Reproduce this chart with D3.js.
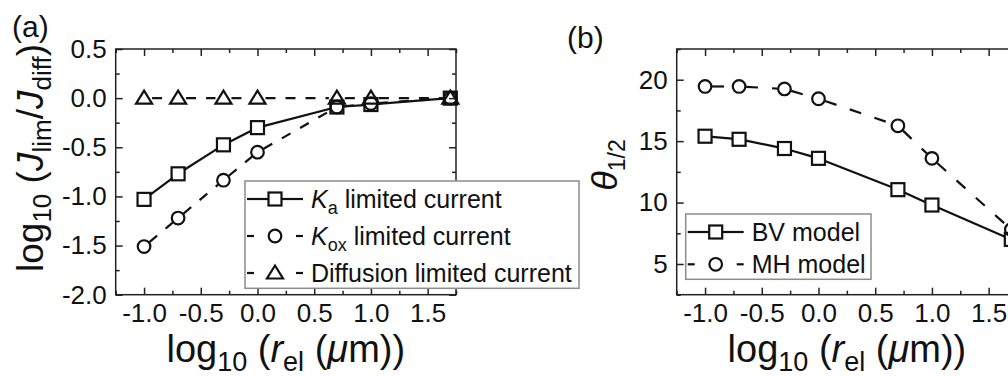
<!DOCTYPE html>
<html lang="en">
	<head>
		<meta charset="utf-8">
		<title>Limiting current and half-wave angle vs electrode radius</title>
		<script src="https://cdn.jsdelivr.net/npm/d3@7"></script>
		<style>
			body { margin: 0; background: #fff; }
			svg { display: block; font-family: "Liberation Sans", Arial, sans-serif; }
			.tick text { font-size: 26px; fill: #111; }
			.tick line { stroke: #222; stroke-width: 1.5; }
			.frame { fill: none; stroke: #222; stroke-width: 1.5; }
		</style>
	</head>
	<body>
		<script>

			// x positions shared by both panels: log10 of electrode radius (um)
			var logR = [-1, -0.7, -0.3, 0, 0.7, 1, 1.7];

			// panel (a): log10(Jlim/Jdiff)
			var kaVals   = [-1.03, -0.77, -0.475, -0.30, -0.09, -0.065, 0.0];
			var koxVals  = [-1.51, -1.22, -0.835, -0.55, -0.09, -0.055, 0.0];
			var diffVals = [0, 0, 0, 0, 0, 0, 0];

			// panel (b): theta 1/2
			var bvVals = [15.4, 15.15, 14.4, 13.6, 11.05, 9.8, 7.0];
			var mhVals = [19.45, 19.45, 19.25, 18.45, 16.25, 13.6, 7.8];

			var xTicks  = [-1, -0.5, 0, 0.5, 1, 1.5];
			var xMinor  = [-1.25, -0.75, -0.25, 0.25, 0.75, 1.25, 1.75];
			var yTicksA = [-2, -1.5, -1, -0.5, 0, 0.5];
			var yMinorA = [-1.75, -1.25, -0.75, -0.25, 0.25];
			var yTicksB = [5, 10, 15, 20];
			var yMinorB = [2.5, 7.5, 12.5, 17.5, 22.5];

			var W = 1008, H = 376;
			var pw = 340.3, ph = 245.7;

			var svg = d3.select("body").append("svg")
				.attr("width", W)
				.attr("height", H);

			function panel(left, top, yDomain, yTicks, yMinor, yFmt) {
				var g = svg.append("g").attr("transform", "translate(" + left + "," + top + ")");
				var x = d3.scaleLinear().domain([-1.25, 1.75]).range([0, pw]);
				var y = d3.scaleLinear().domain(yDomain).range([ph, 0]);

				var fx = function(d) { return d.toFixed(1); };

				// major ticks with labels (bottom, left) and mirrored (top, right)
				g.append("g").attr("transform", "translate(0," + ph + ")")
					.call(d3.axisBottom(x).tickValues(xTicks).tickFormat(fx).tickSize(-7).tickSizeOuter(0).tickPadding(9));
				g.append("g")
					.call(d3.axisLeft(y).tickValues(yTicks).tickFormat(yFmt).tickSize(-7).tickSizeOuter(0).tickPadding(9));
				g.append("g")
					.call(d3.axisTop(x).tickValues(xTicks).tickFormat("").tickSize(-7).tickSizeOuter(0));
				g.append("g").attr("transform", "translate(" + pw + ",0)")
					.call(d3.axisRight(y).tickValues(yTicks).tickFormat("").tickSize(-7).tickSizeOuter(0));

				// minor ticks
				g.append("g").attr("transform", "translate(0," + ph + ")")
					.call(d3.axisBottom(x).tickValues(xMinor).tickFormat("").tickSize(-4).tickSizeOuter(0));
				g.append("g")
					.call(d3.axisTop(x).tickValues(xMinor).tickFormat("").tickSize(-4).tickSizeOuter(0));
				g.append("g")
					.call(d3.axisLeft(y).tickValues(yMinor).tickFormat("").tickSize(-4).tickSizeOuter(0));
				g.append("g").attr("transform", "translate(" + pw + ",0)")
					.call(d3.axisRight(y).tickValues(yMinor).tickFormat("").tickSize(-4).tickSizeOuter(0));

				g.selectAll(".domain").remove();

				g.append("rect").attr("class", "frame")
					.attr("width", pw).attr("height", ph);

				return { g: g, x: x, y: y };
			}

			// draw a series as separate segments that stop short of the markers
			function series(p, vals, dash, gap) {
				var pts = logR.map(function(d, i) { return [p.x(d), p.y(vals[i])]; });
				var segs = [];
				for (var i = 0; i < pts.length - 1; i++) {
					var a = pts[i], b = pts[i + 1];
					var dx = b[0] - a[0], dy = b[1] - a[1];
					var len = Math.sqrt(dx * dx + dy * dy);
					if (len <= 2 * gap) continue;
					var ux = dx / len, uy = dy / len;
					segs.push([a[0] + ux * gap, a[1] + uy * gap, b[0] - ux * gap, b[1] - uy * gap]);
				}
				p.g.append("g").selectAll("line")
					.data(segs)
					.join("line")
					.attr("x1", function(d) { return d[0]; })
					.attr("y1", function(d) { return d[1]; })
					.attr("x2", function(d) { return d[2]; })
					.attr("y2", function(d) { return d[3]; })
					.attr("stroke", "#111")
					.attr("stroke-width", 2.2)
					.attr("stroke-dasharray", dash);
				return pts;
			}

			function marker(sel, type) {
				if (type === "square") {
					sel.append("rect").attr("x", -6.5).attr("y", -6.5).attr("width", 13).attr("height", 13);
				} else if (type === "circle") {
					sel.append("circle").attr("r", 6.3);
				} else {
					sel.append("path").attr("d", "M0,-7.5L8,5.5L-8,5.5Z");
				}
				sel.attr("fill", "none").attr("stroke", "#111").attr("stroke-width", 2.2);
			}

			function markers(p, pts, type) {
				p.g.append("g").selectAll("g")
					.data(pts)
					.join("g")
					.attr("transform", function(d) { return "translate(" + d[0] + "," + d[1] + ")"; })
					.each(function() { marker(d3.select(this), type); });
			}

			function xTitle(cx) {
				var t = svg.append("text")
					.attr("x", cx).attr("y", 362)
					.attr("text-anchor", "middle")
					.attr("font-size", 38).attr("fill", "#111");
				t.append("tspan").text("log");
				t.append("tspan").attr("font-size", 27).attr("dy", 9).text("10");
				t.append("tspan").attr("dy", -9).text(" (");
				t.append("tspan").attr("font-style", "italic").text("r");
				t.append("tspan").attr("font-size", 27).attr("dy", 9).text("el");
				t.append("tspan").attr("dy", -9).text(" (");
				t.append("tspan").attr("font-style", "italic").text("\u03bc");
				t.append("tspan").text("m))");
			}

			// ---- panel (a)
			var pa = panel(115.7, 49, [-2, 0.5], yTicksA, yMinorA, function(d) { return d.toFixed(1); });
			var ptsKa = series(pa, kaVals, null, 7);
			var ptsKox = series(pa, koxVals, "10,11", 7);
			var ptsDiff = series(pa, diffVals, "10,10", 8);
			markers(pa, ptsKa, "square");
			markers(pa, ptsKox, "circle");
			markers(pa, ptsDiff, "triangle");

			// ---- panel (b)
			var pb = panel(676.7, 49, [2.5, 22.5], yTicksB, yMinorB, d3.format("d"));
			var ptsBv = series(pb, bvVals, null, 7);
			var ptsMh = series(pb, mhVals, "12,14", 7);
			markers(pb, ptsBv, "square");
			markers(pb, ptsMh, "circle");

			// panel labels
			svg.append("text").attr("x", 12).attr("y", 37).attr("font-size", 30).attr("fill", "#111").text("(a)");
			svg.append("text").attr("x", 567).attr("y", 48).attr("font-size", 30).attr("fill", "#111").text("(b)");

			// axis titles
			xTitle(285.8);
			xTitle(846.9);

			var ya = svg.append("text")
				.attr("transform", "translate(43,158) rotate(-90)")
				.attr("text-anchor", "middle")
				.attr("font-size", 37).attr("fill", "#111");
			ya.append("tspan").text("log");
			ya.append("tspan").attr("font-size", 26).attr("dy", 8).text("10");
			ya.append("tspan").attr("dy", -8).text(" (");
			ya.append("tspan").attr("font-style", "italic").text("J");
			ya.append("tspan").attr("font-size", 26).attr("dy", 8).text("lim");
			ya.append("tspan").attr("dy", -8).text("/");
			ya.append("tspan").attr("font-style", "italic").text("J");
			ya.append("tspan").attr("font-size", 26).attr("dy", 8).text("diff");
			ya.append("tspan").attr("dy", -8).text(")");

			var yb = svg.append("text")
				.attr("transform", "translate(617,165) rotate(-90)")
				.attr("text-anchor", "middle")
				.attr("font-size", 36).attr("fill", "#111");
			yb.append("tspan").attr("font-style", "italic").text("\u03b8");
			yb.append("tspan").attr("font-size", 23).attr("dy", 8).text("1/2");

			// legends
			function legend(x0, y0, w, h, rows) {
				var lg = svg.append("g");
				lg.append("rect")
					.attr("x", x0).attr("y", y0).attr("width", w).attr("height", h)
					.attr("fill", "#fff").attr("stroke", "#8c8c8c").attr("stroke-width", 1.5);
				rows.forEach(function(r, i) {
					var cy = y0 + 18 + i * r.step;
					var row = lg.append("g").attr("transform", "translate(" + (x0 + 2) + "," + cy + ")");
					if (r.dashed) {
						row.append("line").attr("x1", 0).attr("x2", 7).attr("stroke", "#111").attr("stroke-width", 2.2);
						row.append("line").attr("x1", 49).attr("x2", 56).attr("stroke", "#111").attr("stroke-width", 2.2);
					} else {
						row.append("line").attr("x1", 0).attr("x2", 22).attr("stroke", "#111").attr("stroke-width", 2.2);
						row.append("line").attr("x1", 34).attr("x2", 56).attr("stroke", "#111").attr("stroke-width", 2.2);
					}
					var m = row.append("g").attr("transform", "translate(28,0)");
					marker(m, r.type);
					var t = row.append("text").attr("x", 64).attr("dy", "0.36em")
						.attr("font-size", 25).attr("fill", "#111");
					r.label(t);
				});
			}

			legend(245, 181, 334, 107.3, [
				{ type: "square", dashed: false, step: 37, label: function(t) {
					t.append("tspan").attr("font-style", "italic").text("K");
					t.append("tspan").attr("font-size", 18).attr("dy", 6).text("a");
					t.append("tspan").attr("dy", -6).text(" limited current");
				} },
				{ type: "circle", dashed: true, step: 37, label: function(t) {
					t.append("tspan").attr("font-style", "italic").text("K");
					t.append("tspan").attr("font-size", 18).attr("dy", 6).text("ox");
					t.append("tspan").attr("dy", -6).text(" limited current");
				} },
				{ type: "triangle", dashed: true, step: 37, label: function(t) {
					t.text("Diffusion limited current");
				} }
			]);

			legend(685.7, 214, 185.3, 65.3, [
				{ type: "square", dashed: false, step: 32.3, label: function(t) { t.text("BV model"); } },
				{ type: "circle", dashed: true, step: 32.3, label: function(t) { t.text("MH model"); } }
			]);

		</script>
	</body>
</html>
